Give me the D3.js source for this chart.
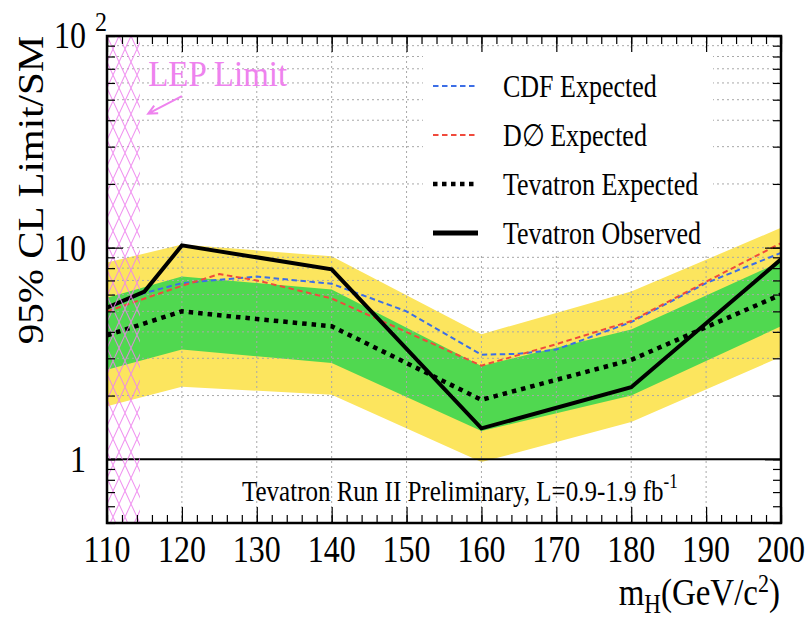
<!DOCTYPE html>
<html>
<head>
<meta charset="utf-8">
<script src="https://cdn.jsdelivr.net/npm/d3@7"></script>
<style>
  body { margin: 0; background: #fff; }
  text { font-family: "Liberation Serif", "Times New Roman", serif; fill: #000; }
</style>
</head>
<body>
<svg id="chart" width="811" height="620"></svg>
<script>
// Higgs mass points (GeV/c^2) and limits relative to SM
const bandMass = [110, 120, 140, 160, 180, 200];
const band2Lo  = [1.78, 2.2, 2.02, 0.97, 1.5, 3.05];
const band2Hi  = [8.5, 10.35, 9.1, 3.9, 6.2, 12.4];
const band1Lo  = [2.65, 3.3, 2.85, 1.36, 2.0, 4.25];
const band1Hi  = [5.8, 7.3, 6.35, 2.76, 4.1, 8.6];

const cdfMass = [110, 115, 120, 130, 140, 150, 160, 165, 170, 180, 190, 200];
const cdfExp  = [5.2, 6.1, 6.8, 7.3, 6.75, 5.0, 3.12, 3.15, 3.3, 4.45, 6.8, 9.45];

const d0Mass = [110, 120, 125, 130, 140, 160, 170, 180, 190, 200];
const d0Exp  = [5.0, 6.6, 7.5, 7.0, 5.75, 2.77, 3.5, 4.5, 6.9, 10.5];

const tevExpMass = [110, 120, 130, 140, 160, 180, 200];
const tevExp     = [3.85, 5.0, 4.6, 4.25, 1.91, 2.95, 6.0];

const obsMass = [110, 115, 120, 140, 160, 180, 200];
const tevObs  = [5.2, 6.2, 10.25, 7.9, 1.40, 2.19, 8.8];

const lepLimit = 114.4;
const xMajorTicks = [110, 120, 130, 140, 150, 160, 170, 180, 190, 200];
const yMajorTicks = [1, 10, 100];

const legendEntries = [
  { label: "CDF Expected",       key: "cdf" },
  { label: "D\u2205 Expected",   key: "d0" },
  { label: "Tevatron Expected",  key: "tevExp" },
  { label: "Tevatron Observed",  key: "tevObs" }
];

// ---- styles ----
const styles = {
  cdf:    { stroke: "#3c6ee6", width: 2,   dash: "5.5,3.5" },
  d0:     { stroke: "#f04a3c", width: 2,   dash: "5.5,3.5" },
  tevExp: { stroke: "#000",    width: 4.5, dash: "4.5,5" },
  tevObs: { stroke: "#000",    width: 4,   dash: null }
};
const yellow = "#fce55e", green = "#50d850", lepPink = "#ee82ee";
const sy = 1.18; // vertical stretch of the serif lettering

const frame = { left: 107, right: 781, top: 36, bottom: 523 };
const svg = d3.select("#chart");
const x = d3.scaleLinear().domain([110, 200]).range([frame.left, frame.right]);
const y = d3.scaleLog().domain([0.5, 100]).range([frame.bottom, frame.top]);

const defs = svg.append("defs");
defs.append("clipPath").attr("id", "plotClip")
  .append("rect").attr("x", frame.left).attr("y", frame.top)
  .attr("width", frame.right - frame.left).attr("height", frame.bottom - frame.top);
const pat = defs.append("pattern").attr("id", "lepHatch")
  .attr("patternUnits", "userSpaceOnUse").attr("width", 12).attr("height", 26)
  .attr("x", frame.left).attr("y", frame.top);
pat.append("path").attr("d", "M0,0 L12,26 M12,0 L0,26")
  .attr("stroke", lepPink).attr("stroke-width", 1.1).attr("fill", "none");

const plot = svg.append("g").attr("clip-path", "url(#plotClip)");

// ---- bands ----
function bandData(lo, hi) { return bandMass.map((m, i) => ({ m, lo: lo[i], hi: hi[i] })); }
const area = d3.area().x(d => x(d.m)).y0(d => y(d.lo)).y1(d => y(d.hi));
plot.append("path").datum(bandData(band2Lo, band2Hi)).attr("d", area).attr("fill", yellow);
plot.append("path").datum(bandData(band1Lo, band1Hi)).attr("d", area).attr("fill", green);

// ---- grid ----
const grid = plot.append("g").attr("stroke", "#a8a8a8").attr("stroke-width", 1)
  .attr("stroke-dasharray", "2,3");
xMajorTicks.filter(v => v > 110 && v < 200).forEach(v => {
  grid.append("line").attr("x1", x(v)).attr("x2", x(v))
    .attr("y1", frame.top).attr("y2", frame.bottom);
});
y.ticks().filter(v => v > 1 && v < 100).forEach(v => {
  grid.append("line").attr("x1", frame.left).attr("x2", frame.right)
    .attr("y1", y(v)).attr("y2", y(v));
});

// reference line at limit = SM
plot.append("line").attr("x1", frame.left).attr("x2", frame.right)
  .attr("y1", y(1)).attr("y2", y(1)).attr("stroke", "#000").attr("stroke-width", 2);

// ---- curves ----
const line = d3.line().x(d => x(d[0])).y(d => y(d[1]));
function drawCurve(ms, vs, st) {
  plot.append("path").datum(ms.map((m, i) => [m, vs[i]]))
    .attr("d", line).attr("fill", "none")
    .attr("stroke", st.stroke).attr("stroke-width", st.width)
    .attr("stroke-dasharray", st.dash).attr("stroke-linejoin", "miter");
}
drawCurve(cdfMass, cdfExp, styles.cdf);
drawCurve(d0Mass, d0Exp, styles.d0);
drawCurve(tevExpMass, tevExp, styles.tevExp);
drawCurve(obsMass, tevObs, styles.tevObs);

// ---- LEP excluded region ----
plot.append("rect").attr("x", x(110)).attr("y", frame.top)
  .attr("width", x(lepLimit) - x(110)).attr("height", frame.bottom - frame.top)
  .attr("fill", "url(#lepHatch)").attr("opacity", 0.85);

// ---- legend ----
const leg = svg.append("g");
leg.append("rect").attr("x", 423).attr("y", 50).attr("width", 290).attr("height", 206).attr("fill", "#fff");
legendEntries.forEach((e, i) => {
  const cy = 86 + i * 49;
  const st = styles[e.key];
  leg.append("line").attr("x1", 433).attr("x2", 478).attr("y1", cy).attr("y2", cy)
    .attr("stroke", st.stroke).attr("stroke-width", e.key === "tevObs" ? 5 : st.width)
    .attr("stroke-dasharray", e.key === "tevExp" ? "4.5,4.5" : st.dash);
  leg.append("text").attr("transform", `translate(503,${cy + 11}) scale(1,${sy})`)
    .attr("font-size", 26).text(e.label);
});

// ---- axes ticks (inward) ----
const xMinor = d3.range(110, 201, 2);
const yMinor = y.ticks();
function tickAxis(axisFn, scale, values, size, tx, ty) {
  const g = svg.append("g").attr("transform", `translate(${tx},${ty})`)
    .call(axisFn(scale).tickValues(values).tickSize(-size).tickFormat(""));
  g.select(".domain").remove();
  g.selectAll(".tick line").attr("stroke", "#000").attr("stroke-width", 1.2);
}
tickAxis(d3.axisBottom, x, xMinor, 8, 0, frame.bottom);
tickAxis(d3.axisBottom, x, xMajorTicks, 16, 0, frame.bottom);
tickAxis(d3.axisTop, x, xMinor, 8, 0, frame.top);
tickAxis(d3.axisTop, x, xMajorTicks, 16, 0, frame.top);
tickAxis(d3.axisLeft, y, yMinor, 8, frame.left, 0);
tickAxis(d3.axisLeft, y, yMajorTicks, 16, frame.left, 0);
tickAxis(d3.axisRight, y, yMinor, 8, frame.right, 0);
tickAxis(d3.axisRight, y, yMajorTicks, 16, frame.right, 0);

// frame
svg.append("rect").attr("x", frame.left).attr("y", frame.top)
  .attr("width", frame.right - frame.left).attr("height", frame.bottom - frame.top)
  .attr("fill", "none").attr("stroke", "#000").attr("stroke-width", 2.5);

// ---- tick labels ----
xMajorTicks.forEach(v => {
  svg.append("text").attr("transform", `translate(${x(v)},562) scale(1,${sy})`)
    .attr("text-anchor", "middle").attr("font-size", 32).text(v);
});
yMajorTicks.forEach(v => {
  const t = svg.append("text").attr("transform", `translate(86,${y(v) + 13}) scale(1,${sy})`)
    .attr("text-anchor", "end").attr("font-size", 32);
  if (v === 100) {
    t.attr("transform", `translate(54,${y(v) + 12}) scale(1,${sy})`).attr("text-anchor", "start");
    t.append("tspan").text("10");
    t.append("tspan").attr("dx", 9).attr("dy", -14).attr("font-size", 24).text("2");
  } else {
    t.text(v);
  }
});

// axis titles
svg.append("text").attr("transform", `translate(43,190) scale(1,1.14) rotate(-90)`)
  .attr("text-anchor", "middle").attr("font-size", 36).text("95% CL Limit/SM");

const xt = svg.append("text").attr("transform", `translate(780,605) scale(1,${sy})`)
  .attr("text-anchor", "end").attr("font-size", 33);
xt.append("tspan").text("m");
xt.append("tspan").attr("font-size", 23).attr("dy", 7).text("H");
xt.append("tspan").attr("dy", -7).text("(GeV/c");
xt.append("tspan").attr("font-size", 22).attr("dy", -11).text("2");
xt.append("tspan").attr("dy", 11).text(")");

// luminosity note
const note = svg.append("text").attr("transform", `translate(242,501) scale(1,${sy})`)
  .attr("font-size", 25);
note.append("tspan").text("Tevatron Run II Preliminary, L=0.9-1.9 fb");
note.append("tspan").attr("font-size", 17).attr("dy", -11).text("-1");

// LEP annotation
svg.append("text").attr("transform", `translate(${x(115.5)},${y(58)}) scale(1,1.1)`)
  .attr("font-size", 33).style("fill", lepPink).text("LEP Limit");
const arrowFrom = [120, 52], arrowTo = [115.5, 43];
const ax1 = x(arrowFrom[0]), ay1 = y(arrowFrom[1]), ax2 = x(arrowTo[0]), ay2 = y(arrowTo[1]);
const ang = Math.atan2(ay2 - ay1, ax2 - ax1), hl = 10;
svg.append("path")
  .attr("d", `M${ax1},${ay1} L${ax2},${ay2}
    M${ax2 - hl * Math.cos(ang - 0.45)},${ay2 - hl * Math.sin(ang - 0.45)} L${ax2},${ay2}
    L${ax2 - hl * Math.cos(ang + 0.45)},${ay2 - hl * Math.sin(ang + 0.45)}`)
  .attr("fill", "none").attr("stroke", lepPink).attr("stroke-width", 2);
</script>
</body>
</html>
